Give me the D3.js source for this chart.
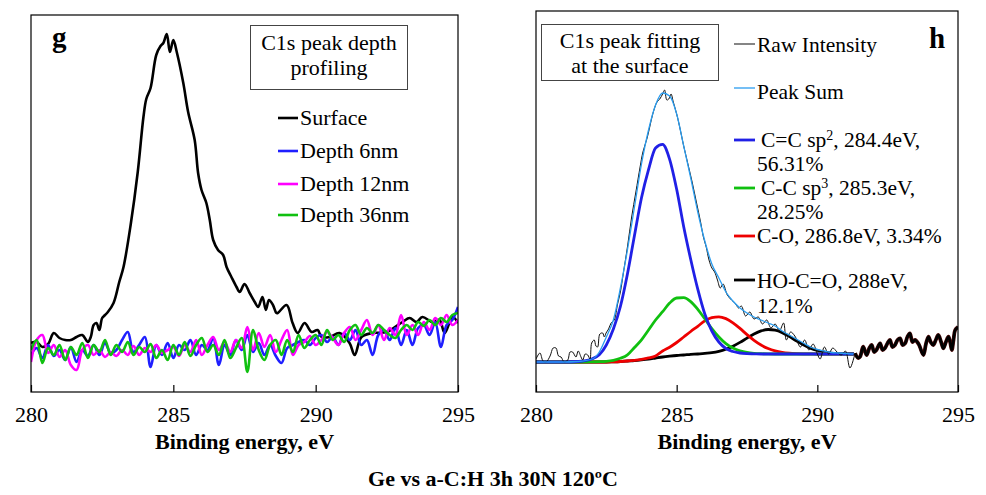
<!DOCTYPE html>
<html>
<head>
<meta charset="utf-8">
<script src="https://cdn.jsdelivr.net/npm/d3@7"></script>
<style>
  html, body { margin: 0; padding: 0; background: #fff; }
  svg { display: block; }
  text { font-family: "Liberation Serif", "Times New Roman", serif; fill: #000; }
</style>
</head>
<body>
<svg id="chart" width="986" height="495"></svg>
<script>
// ---------------- DATA (intensity in arbitrary units) ----------------
const xTicks = [280, 285, 290, 295];

// Panel g: depth profiling
const surfaceE = [280.0,280.2,280.4,280.6,280.8,281.0,281.2,281.4,281.6,281.8,282.0,282.1,282.2,282.3,282.4,282.5,282.6,282.7,282.9,283.1,283.25,283.5,283.75,283.95,284.05,284.2,284.4,284.55,284.65,284.77,284.88,285.0,285.12,285.35,285.52,285.75,285.87,285.99,286.16,286.28,286.4,286.57,286.75,286.87,287.04,287.22,287.33,287.5,287.68,287.86,287.98,288.13,288.25,288.36,288.5,288.62,288.67,288.98,289.19,289.37,289.61,289.86,290.07,290.21,290.49,290.84,291.19,291.37,291.61,292.0,292.49,293.05,293.3,293.54,293.75,294.1,294.35,294.53,294.81,295.0];
const surfaceI = [49,50,45,48,59,54,52,52,55,57,50,55,67,69,62,74,77,80,89,110,125,167,220,275,293,304,337,346,349,358,340,352,340,309,280,252,219,202,189,172,152,142,137,125,115,105,100,108,99,90,85,95,82,92,87,79,79,87,69,59,69,60,62,55,55,59,49,37,55,59,60,70,74,70,75,70,72,59,75,69];

const depthE = [280.0,280.2,280.4,280.6,280.8,281.0,281.2,281.4,281.6,281.8,282.0,282.2,282.4,282.6,282.8,283.0,283.2,283.4,283.6,283.8,284.0,284.2,284.4,284.6,284.8,285.0,285.2,285.4,285.6,285.8,286.0,286.2,286.4,286.6,286.8,287.0,287.2,287.4,287.6,287.8,288.0,288.2,288.4,288.6,288.8,289.0,289.2,289.4,289.6,289.8,290.0,290.2,290.4,290.6,290.8,291.0,291.2,291.4,291.6,291.8,292.0,292.2,292.4,292.6,292.8,293.0,293.2,293.4,293.6,293.8,294.0,294.2,294.4,294.6,294.8,295.0];
const depth6I  = [37,44,34,47,36,42,32,45,30,42,36,47,37,49,39,42,52,60,40,47,55,25,47,37,49,34,47,42,52,37,47,42,54,27,47,37,52,42,57,40,49,37,47,36,29,44,47,50,52,47,54,57,50,55,47,59,52,62,47,52,37,57,62,52,64,47,62,47,64,67,57,70,45,67,72,85];
const depth12I = [30,52,57,39,47,35,42,27,22,42,47,37,42,35,40,36,42,37,46,37,44,40,47,39,42,45,36,47,40,52,37,47,55,42,50,40,52,44,65,42,59,45,57,40,52,62,37,47,50,56,47,52,60,54,47,59,65,52,62,72,57,67,52,64,57,77,57,67,57,70,62,74,67,77,67,72];
const depth36I = [42,52,29,44,37,47,32,45,37,49,34,47,40,52,37,47,40,50,37,45,40,48,34,42,32,47,37,50,36,47,54,40,47,37,52,34,44,54,20,62,42,32,47,52,37,52,40,57,44,52,57,47,62,52,57,50,62,67,57,64,59,67,62,57,54,62,67,62,70,66,72,67,74,70,77,79];

// Panel h: peak fitting
const fitE = [280,280.5,281,281.5,282,282.25,282.5,282.75,283,283.25,283.5,283.75,284,284.25,284.5,284.75,285,285.25,285.5,285.75,286,286.25,286.5,286.75,287,287.25,287.5,287.75,288,288.25,288.5,288.75,289,289.25,289.5,289.75,290,290.25,290.5,290.75,291,291.3];
const sp2I   = [30,30,30,30.5,33.2,37.2,47,63,85.5,118,156.5,194.2,222.4,244,247.7,232.7,202.7,165.3,132.5,102.8,78,61,50,43.5,40.5,39,38.4,38.2,38,38,38,38,38,38,38,38,38,38,38,38,38,38];
const sp3I   = [30,30,30,30,30.1,30.3,30.7,31.7,33.7,37.1,44.5,52.2,62,72,80.3,88.9,94,94.4,90.4,82.7,73.2,63.4,55,48.4,43.9,41.1,39.5,38.7,38.3,38.1,38,38,38,38,38,38,38,38,38,38,38,38];
const coI    = [30,30,30,30,30,30,30,30.2,30.5,31,31.7,32.7,34.1,36.1,41,44.8,49.5,55,60.5,65.7,71.1,74.4,75.2,73.4,69.2,63.6,57.4,51.7,47,43.5,41.1,39.6,38.8,38.4,38.2,38.1,38,38,38,38,38,38];
const hocoI  = [30,30,30,30,30,30,30,30.2,30.5,31,31.5,32.2,33,34,35,35.8,36.5,37,37.6,38,38.7,39.4,40.7,42.8,45.8,49.6,53.9,58,61.1,62.5,61.8,59.4,55.6,51.3,47.3,43.9,41.5,39.9,38.9,38.4,38.2,38];
const sumI   = [30,30,30,30.5,33,40,55,72,104,142,185,228,262,287,299,296,278,246,214,180,151,128,114,100,91,84,79,75,72,69,66,61,57,53,49,45,42.5,41,39.5,39,38.5,38];

const rawE = [280.0,280.14,280.25,280.36,280.5,280.61,280.71,280.8,280.89,281.0,281.13,281.21,281.3,281.42,281.5,281.6,281.66,281.75,281.84,281.92,281.98,282.07,282.13,282.19,282.27,282.37,282.43,282.49,282.58,282.67,282.78,282.9,283.0,283.1,283.25,283.4,283.55,283.7,283.8,283.95,284.05,284.15,284.3,284.4,284.5,284.57,284.65,284.72,284.8,284.88,285.0,285.1,285.25,285.4,285.55,285.7,285.85,285.95,286.05,286.15,286.25,286.35,286.45,286.55,286.65,286.8,286.95,287.1,287.2,287.3,287.45,287.6,287.75,287.9,288.05,288.2,288.35,288.5,288.65,288.8,288.9,289.05,289.2,289.4,289.55,289.7,289.85,290.0,290.1,290.25,290.4,290.55,290.7,290.85,291.0,291.16,291.34,291.45,291.52,291.63,291.75,291.85,291.93,292.02,292.1,292.23,292.32,292.4,292.5,292.58,292.67,292.76,292.85,292.94,293.03,293.12,293.2,293.29,293.38,293.47,293.6,293.77,293.86,293.95,294.03,294.12,294.21,294.3,294.4,294.48,294.57,294.66,294.72,294.78,294.84,294.9,295.0];
const rawI = [33,39,31,30,36,44,44,36,35,30,32,40,40,35,41,35,32,38,37,33,49,52,46,45,58,59,55,59,63,69,72,88,100,118,145,175,200,225,240,254,266,278,290,293,298,302,292,293,298,290,278,266,246,228,210,190,170,155,145,132,124,120,112,104,108,97,92,88,84,86,76,80,73,75,68,72,64,68,61,69,52,60,56,45,52,42,48,38,33,45,38,44,40,37,41,24,38.7,34,35.3,45.3,37,44,47,40,42,48.7,42,43.7,49,52,45,47,52,53.7,47,48.7,55,58.7,50,52,48,37,48,55.3,50,47,52,57,50,43.7,50,55.3,50,42,52,62,65];
const tailStart = 291.34;

const leftLegend = ["Surface", "Depth 6nm", "Depth 12nm", "Depth 36nm"];

// ---------------- DRAWING ----------------
const svg = d3.select("#chart");
const FONT = '"Liberation Serif", "Times New Roman", serif';

const xL = d3.scaleLinear().domain([280, 295]).range([31, 458]);
const yL = d3.scaleLinear().domain([0, 377]).range([392, 15]);
const xR = d3.scaleLinear().domain([280, 295]).range([536, 958]);
const yR = d3.scaleLinear().domain([0, 381]).range([392, 11]);

const defs = svg.append("defs");
defs.append("clipPath").attr("id", "clipL").append("rect")
  .attr("x", xL(280)).attr("y", yL(377)).attr("width", xL(295) - xL(280)).attr("height", yL(0) - yL(377));
defs.append("clipPath").attr("id", "clipR").append("rect")
  .attr("x", xR(280)).attr("y", yR(381)).attr("width", xR(295) - xR(280)).attr("height", yR(0) - yR(381));

function pts(E, I) { return E.map((e, i) => [e, I[i]]); }

function drawAxis(x, y, yTop) {
  const g = svg.append("g").attr("transform", `translate(0,${y(0)})`)
    .call(d3.axisBottom(x).tickValues(xTicks).tickSizeInner(-7).tickSizeOuter(0).tickFormat(d3.format("d")));
  g.select(".domain").remove();
  g.selectAll(".tick line").attr("stroke", "#000").attr("stroke-width", 1.2);
  g.selectAll(".tick text").attr("y", 30).attr("dy", null)
    .style("font-family", FONT).style("font-size", "22px").attr("fill", "#000");
  svg.append("rect").attr("x", x(280)).attr("y", y(yTop)).attr("width", x(295) - x(280))
    .attr("height", y(0) - y(yTop)).attr("fill", "none").attr("stroke", "#000").attr("stroke-width", 1.2);
}

// ---- Left panel ----
const lineL = d3.line().x(d => xL(d[0])).y(d => yL(d[1])).curve(d3.curveCatmullRom.alpha(0.5));
const gL = svg.append("g").attr("clip-path", "url(#clipL)");
const leftSeries = [
  {I: surfaceI, E: surfaceE, c: "#000000"},
  {I: depth6I, E: depthE, c: "#1f1fff"},
  {I: depth12I, E: depthE, c: "#ff00ff"},
  {I: depth36I, E: depthE, c: "#10c010"}
];
leftSeries.forEach(s => {
  gL.append("path").attr("d", lineL(pts(s.E, s.I))).attr("fill", "none")
    .attr("stroke", s.c).attr("stroke-width", 2.6).attr("stroke-linejoin", "round");
});
drawAxis(xL, yL, 377);

svg.append("text").attr("x", 52).attr("y", 47).style("font-size", "29px").style("font-weight", "bold").text("g");
svg.append("rect").attr("x", 250.5).attr("y", 25.5).attr("width", 157).attr("height", 64)
  .attr("fill", "#fff").attr("stroke", "#444").attr("stroke-width", 1);
svg.append("text").attr("x", 329).attr("y", 50).attr("text-anchor", "middle").style("font-size", "22px").text("C1s peak depth");
svg.append("text").attr("x", 329).attr("y", 75).attr("text-anchor", "middle").style("font-size", "22px").text("profiling");

const legLY = [118, 151, 184, 215];
leftLegend.forEach((name, i) => {
  svg.append("line").attr("x1", 278).attr("x2", 298).attr("y1", legLY[i]).attr("y2", legLY[i])
    .attr("stroke", leftSeries[i].c).attr("stroke-width", 2.6);
  svg.append("text").attr("x", 300).attr("y", legLY[i] + 6.5).style("font-size", "22px").text(name);
});

svg.append("text").attr("x", 244.5).attr("y", 449).attr("text-anchor", "middle")
  .style("font-size", "22px").style("font-weight", "bold").text("Binding energy, eV");

// ---- Right panel ----
const lineR = d3.line().x(d => xR(d[0])).y(d => yR(d[1])).curve(d3.curveMonotoneX);
const lineRn = d3.line().x(d => xR(d[0])).y(d => yR(d[1])).curve(d3.curveCatmullRom.alpha(0.5));
const gR = svg.append("g").attr("clip-path", "url(#clipR)");

const comps = [
  {I: hocoI, c: "#000000", name: "HO-C=O"},
  {I: coI, c: "#ee0000", name: "C-O"},
  {I: sp3I, c: "#10c010", name: "C-C"},
  {I: sp2I, c: "#2020e6", name: "C=C"}
];
comps.forEach(s => {
  gR.append("path").attr("d", lineR(pts(fitE, s.I))).attr("fill", "none")
    .attr("stroke", s.c).attr("stroke-width", 2.8).attr("stroke-linejoin", "round");
});
const rawPts = pts(rawE, rawI);
gR.append("path").attr("d", lineRn(rawPts.filter(d => d[0] <= tailStart))).attr("fill", "none")
  .attr("stroke", "#111").attr("stroke-width", 1);
gR.append("path").attr("d", lineR(pts(fitE, sumI))).attr("fill", "none")
  .attr("stroke", "#2a9df0").attr("stroke-width", 1.3);
const tail = rawPts.filter(d => d[0] >= tailStart);
gR.append("path").attr("d", lineRn(tail)).attr("fill", "none")
  .attr("stroke", "#4a0808").attr("stroke-width", 3.8).attr("stroke-linejoin", "round");
gR.append("path").attr("d", lineRn(tail)).attr("fill", "none")
  .attr("stroke", "#000").attr("stroke-width", 2.6).attr("stroke-linejoin", "round");

drawAxis(xR, yR, 381);

svg.append("text").attr("x", 929).attr("y", 48).style("font-size", "29px").style("font-weight", "bold").text("h");
svg.append("rect").attr("x", 541.5).attr("y", 24.5).attr("width", 177).attr("height", 56)
  .attr("fill", "#fff").attr("stroke", "#444").attr("stroke-width", 1);
svg.append("text").attr("x", 630).attr("y", 48).attr("text-anchor", "middle").style("font-size", "22px").text("C1s peak fitting");
svg.append("text").attr("x", 630).attr("y", 73).attr("text-anchor", "middle").style("font-size", "22px").text("at the surface");

function legLine(y, color, w) {
  svg.append("line").attr("x1", 734).attr("x2", 755).attr("y1", y).attr("y2", y)
    .attr("stroke", color).attr("stroke-width", w);
}
function legText(x, y, parts) {
  const t = svg.append("text").attr("x", x).attr("y", y).style("font-size", "21.5px");
  parts.forEach(p => {
    const ts = t.append("tspan").text(p.t);
    if (p.sup) ts.attr("baseline-shift", "7").style("font-size", "14px");
  });
}
legLine(44, "#333", 1.2);   legText(757, 52, [{t: "Raw Intensity"}]);
legLine(88, "#2a9df0", 1.3); legText(757, 99, [{t: "Peak Sum"}]);
legLine(140, "#2020e6", 2.8); legText(761, 147, [{t: "C=C sp"}, {t: "2", sup: true}, {t: ", 284.4eV,"}]);
legText(757, 171, [{t: "56.31%"}]);
legLine(188, "#10c010", 2.8); legText(761, 195, [{t: "C-C sp"}, {t: "3", sup: true}, {t: ", 285.3eV,"}]);
legText(757, 219, [{t: "28.25%"}]);
legLine(236, "#ee0000", 2.8); legText(757, 243, [{t: "C-O, 286.8eV, 3.34%"}]);
legLine(280, "#000", 2.8); legText(757, 288, [{t: "HO-C=O, 288eV,"}]);
legText(757, 313, [{t: "12.1%"}]);

svg.append("text").attr("x", 747).attr("y", 449).attr("text-anchor", "middle")
  .style("font-size", "22px").style("font-weight", "bold").text("Binding energy, eV");

svg.append("text").attr("x", 493).attr("y", 486).attr("text-anchor", "middle")
  .style("font-size", "22px").style("font-weight", "bold").text("Ge vs a-C:H 3h 30N 120ºC");
</script>
</body>
</html>
